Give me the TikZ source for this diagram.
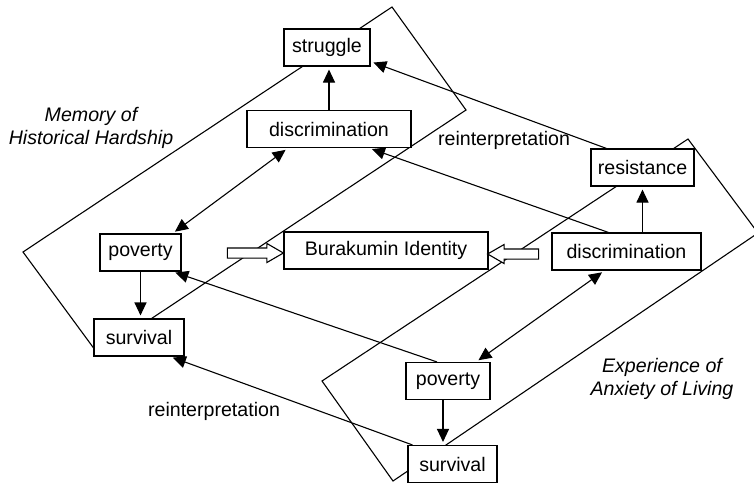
\documentclass[tikz,border=0pt]{standalone}
\usepackage{fontspec}
\setmainfont{Liberation Sans}
\usetikzlibrary{arrows.meta,shapes.arrows}

\begin{document}
\begin{tikzpicture}[x=0.5pt,y=-0.5pt, line width=0.55pt,
  every node/.style={font=\fontsize{9.8}{11.5}\selectfont},
  box/.style={draw, fill=white, inner sep=0pt, minimum height=18.5pt},
  arr/.style={-{Triangle[length=6.5pt,width=6pt]}, shorten >=1.5pt},
  darr/.style={{Triangle[length=6.5pt,width=6pt]}-{Triangle[length=6.5pt,width=6pt]}, shorten >=1.5pt, shorten <=1.5pt},
  hollow/.style={single arrow, draw, fill=white, inner xsep=0pt, inner ysep=2.25pt,
    single arrow head extend=2.25pt, single arrow tip angle=60}]
  \useasboundingbox (0,0) rectangle (754,483);
  \clip (0,0) rectangle (754,483);

  % the two frames
  \coordinate (mt) at (392,7);
  \coordinate (mr) at (466,110);
  \coordinate (mb) at (98,354);
  \coordinate (ml) at (23,252);
  \coordinate (et) at (688,139);
  \coordinate (er) at (758,233);
  \coordinate (eb) at (393,481);
  \coordinate (el) at (322,381);
  \draw (mt) -- (mr) -- (mb) -- (ml) -- cycle;
  \draw (et) -- (er) -- (eb) -- (el) -- cycle;

  \node[align=center, font=\fontsize{9.8}{11.5}\selectfont\itshape] (memory) at (91,128) {Memory of\\Historical Hardship};
  \node[align=center, font=\fontsize{9.8}{11.5}\selectfont\itshape] (experience) at (662,379) {Experience of\\Anxiety of Living};
  \node (reinA) at (504,140) {reinterpretation};
  \node (reinB) at (214,411) {reinterpretation};

  \node[box, minimum width=43pt] (struggle) at (327,47.5) {struggle};
  \node[box, minimum width=82pt] (discL) at (329,129) {discrimination};
  \node[box, minimum width=40.5pt] (povL) at (140.5,252.5) {poverty};
  \node[box, minimum width=45pt] (survL) at (139,337.5) {survival};
  \node[box, minimum width=102pt] (identity) at (386,250.5) {Burakumin Identity};
  \node[box, minimum width=74.5pt] (discR) at (626.5,251.5) {discrimination};
  \node[box, minimum width=51.5pt] (resist) at (642.5,167.5) {resistance};
  \node[box, minimum width=42pt] (povR) at (448,381) {poverty};
  \node[box, minimum width=44.5pt] (survR) at (452.5,464) {survival};

  \node[hollow, minimum height=28pt] (toidL) at (251,253) {};
  \node[hollow, minimum height=25.5pt, shape border rotate=180] (toidR) at (517.5,254) {};

  \draw[arr] (discL.north) -- (discL.north |- struggle.south);
  \draw[arr] (povL.south) -- (povL.south |- survL.north);
  \draw[arr] (resist.south |- discR.north) -- (resist.south);
  \draw[arr] ([xshift=-2.5pt]povR.south) -- ([xshift=-2.5pt]povR.south |- survR.north);
  \draw[darr] ([xshift=-20.5pt]discL.south) -- ([xshift=16pt]povL.north);
  \draw[darr] ([xshift=-11pt]discR.south) -- ([xshift=14pt]povR.north);

  \draw[arr] ([xshift=-18pt]resist.north) -- ([yshift=-7pt]struggle.east);
  \draw[arr] ([xshift=-9pt]discR.north) -- ([xshift=20pt]discL.south);
  \draw[arr] ([xshift=-5.5pt]povR.north) -- ([xshift=16pt]povL.south);
  \draw[arr] ([xshift=-20pt]survR.north) -- ([xshift=15.5pt]survL.south);
\end{tikzpicture}
\end{document}
